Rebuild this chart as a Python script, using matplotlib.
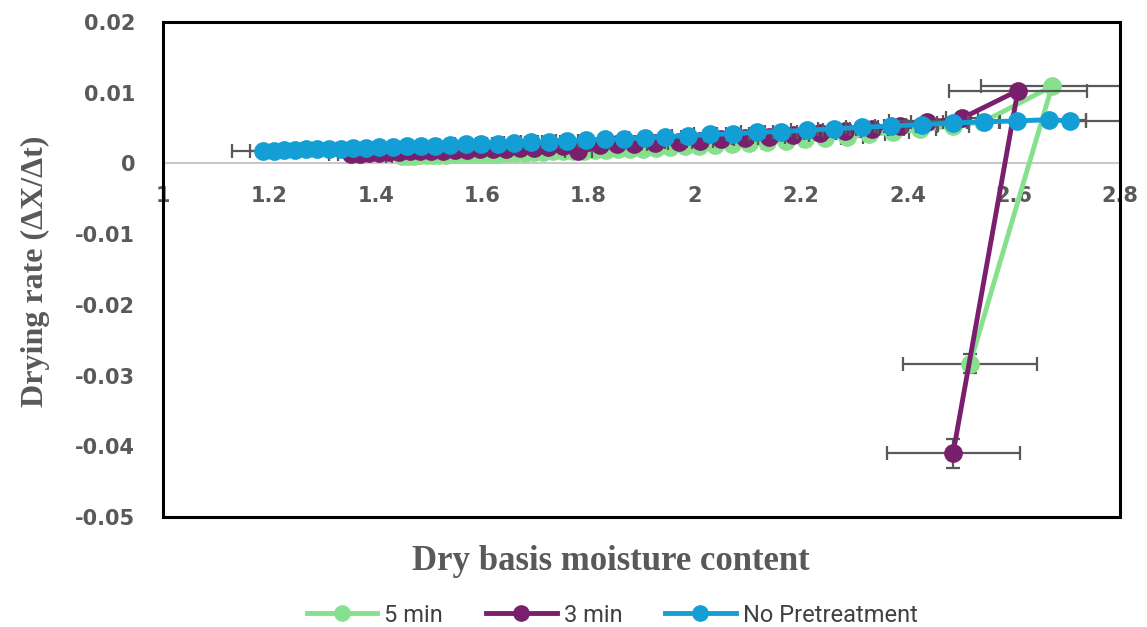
import matplotlib
matplotlib.use("Agg")
import matplotlib.pyplot as plt
from matplotlib.lines import Line2D
from matplotlib.patches import Rectangle

# ---------------- data ----------------
x_ticks = [1.0, 1.2, 1.4, 1.6, 1.8, 2.0, 2.2, 2.4, 2.6, 2.8]
x_tick_labels = ["1", "1.2", "1.4", "1.6", "1.8", "2", "2.2", "2.4", "2.6", "2.8"]
y_ticks = [-0.05, -0.04, -0.03, -0.02, -0.01, 0.0, 0.01, 0.02]
y_tick_labels = ["-0.05", "-0.04", "-0.03", "-0.02", "-0.01", "0", "0.01", "0.02"]

series_names = ["5 min", "3 min", "No Pretreatment"]

x_5min = [2.518, 2.672, 2.543, 2.486, 2.424, 2.373, 2.328, 2.286, 2.246, 2.208,
          2.171, 2.136, 2.102, 2.070, 2.039, 2.009, 1.981, 1.954, 1.928, 1.903,
          1.879, 1.856, 1.834, 1.812, 1.791, 1.771, 1.752, 1.733, 1.715, 1.697,
          1.680, 1.663, 1.647, 1.631, 1.616, 1.601, 1.587, 1.573, 1.559, 1.546,
          1.533, 1.520, 1.508, 1.496, 1.484, 1.472, 1.461, 1.450]
y_5min = [-0.0283, 0.0109, 0.0059, 0.0053, 0.0048, 0.0044, 0.0041, 0.0038, 0.0036, 0.0034,
          0.0032, 0.0031, 0.0029, 0.0028, 0.0026, 0.0025, 0.0024, 0.0023, 0.0022, 0.0021,
          0.0021, 0.0020, 0.0019, 0.0019, 0.0018, 0.0018, 0.0017, 0.0017, 0.0016, 0.0016,
          0.0015, 0.0015, 0.0015, 0.0014, 0.0014, 0.0014, 0.0013, 0.0013, 0.0013, 0.0013,
          0.0012, 0.0012, 0.0012, 0.0012, 0.0012, 0.0011, 0.0011, 0.0011]
xerr_5min = [0.126, 0.134, 0.03, 0.03, 0.03, 0.03, 0.03, 0.03, 0.03, 0.03,
             0.03, 0.03, 0.025, 0.025, 0.025, 0.025, 0.025, 0.025, 0.025, 0.025,
             0.02, 0.02, 0.02, 0.02, 0.02, 0.02, 0.02, 0.02, 0.02, 0.02,
             0.02, 0.02, 0.02, 0.02, 0.02, 0.02, 0.02, 0.02, 0.02, 0.02,
             0.03, 0.03, 0.03, 0.03, 0.03, 0.03, 0.03, 0.03]
yerr_5min = [0.0014, 0.0005, 0.0003, 0.0003, 0.0003, 0.0003, 0.0003, 0.0003, 0.0003, 0.0003,
             0.0003, 0.0003, 0.0003, 0.0003, 0.0003, 0.0003, 0.0003, 0.0003, 0.0003, 0.0003,
             0.0003, 0.0003, 0.0003, 0.0003, 0.0003, 0.0003, 0.0003, 0.0003, 0.0003, 0.0003,
             0.0003, 0.0003, 0.0003, 0.0003, 0.0003, 0.0003, 0.0003, 0.0003, 0.0003, 0.0003,
             0.0003, 0.0003, 0.0003, 0.0003, 0.0003, 0.0003, 0.0003, 0.0003]

x_3min = [2.486, 2.608, 2.503, 2.437, 2.386, 2.333, 2.283, 2.236, 2.185, 2.140,
          2.095, 2.049, 2.010, 1.970, 1.925, 1.886, 1.854, 1.822, 1.781, 1.752,
          1.724, 1.697, 1.671, 1.645, 1.620, 1.596, 1.572, 1.549, 1.527, 1.505,
          1.484, 1.464, 1.444, 1.425, 1.406, 1.388, 1.370, 1.353]
y_3min = [-0.0410, 0.0103, 0.0064, 0.0058, 0.0053, 0.0049, 0.0046, 0.0043, 0.0040, 0.0038,
          0.0036, 0.0034, 0.0032, 0.0031, 0.0029, 0.0028, 0.0027, 0.0026, 0.0017, 0.0024,
          0.0023, 0.0022, 0.0022, 0.0021, 0.0020, 0.0020, 0.0019, 0.0019, 0.0018, 0.0018,
          0.0017, 0.0017, 0.0016, 0.0016, 0.0015, 0.0015, 0.0014, 0.0014]
xerr_3min = [0.125, 0.13, 0.03, 0.03, 0.03, 0.03, 0.03, 0.03, 0.03, 0.03,
             0.025, 0.025, 0.025, 0.025, 0.025, 0.025, 0.025, 0.025, 0.025, 0.025,
             0.02, 0.02, 0.02, 0.02, 0.02, 0.02, 0.02, 0.02, 0.02, 0.02,
             0.02, 0.02, 0.02, 0.02, 0.03, 0.03, 0.04, 0.04]
yerr_3min = [0.002, 0.0005, 0.0003, 0.0003, 0.0003, 0.0003, 0.0003, 0.0003, 0.0003, 0.0003,
             0.0003, 0.0003, 0.0003, 0.0003, 0.0003, 0.0003, 0.0003, 0.0003, 0.0003, 0.0003,
             0.0003, 0.0003, 0.0003, 0.0003, 0.0003, 0.0003, 0.0003, 0.0003, 0.0003, 0.0003,
             0.0003, 0.0003, 0.0003, 0.0003, 0.0003, 0.0003, 0.0003, 0.0003]

x_none = [2.706, 2.666, 2.606, 2.544, 2.486, 2.427, 2.369, 2.315, 2.262, 2.211,
          2.162, 2.117, 2.072, 2.029, 1.987, 1.944, 1.906, 1.867, 1.831, 1.795,
          1.760, 1.726, 1.693, 1.661, 1.630, 1.599, 1.569, 1.540, 1.512, 1.485,
          1.458, 1.432, 1.407, 1.382, 1.358, 1.335, 1.312, 1.290, 1.269, 1.248,
          1.228, 1.208, 1.189]
y_none = [0.0060, 0.0062, 0.0060, 0.0059, 0.0057, 0.0055, 0.0053, 0.0051, 0.0049, 0.0047,
          0.0045, 0.0044, 0.0042, 0.0041, 0.0039, 0.0038, 0.0036, 0.0035, 0.0034, 0.0033,
          0.0032, 0.0031, 0.0030, 0.0029, 0.0028, 0.0028, 0.0027, 0.0026, 0.0025, 0.0025,
          0.0024, 0.0023, 0.0023, 0.0022, 0.0022, 0.0021, 0.0021, 0.0020, 0.0020, 0.0019,
          0.0019, 0.0018, 0.0018]
xerr_none = [0.03, 0.07, 0.24, 0.03, 0.03, 0.03, 0.03, 0.03, 0.03, 0.03,
             0.03, 0.03, 0.03, 0.03, 0.03, 0.03, 0.03, 0.03, 0.03, 0.03,
             0.02, 0.02, 0.02, 0.02, 0.02, 0.02, 0.02, 0.02, 0.02, 0.02,
             0.02, 0.02, 0.02, 0.02, 0.02, 0.02, 0.02, 0.02, 0.02, 0.02,
             0.02, 0.044, 0.059]
yerr_none = [0.0002, 0.0002, 0.0002, 0.0002, 0.0002, 0.0002, 0.0002, 0.0002, 0.0002, 0.0002,
             0.0002, 0.0002, 0.0002, 0.0002, 0.0002, 0.0002, 0.0002, 0.0002, 0.0002, 0.0002,
             0.0002, 0.0002, 0.0002, 0.0002, 0.0002, 0.0002, 0.0002, 0.0002, 0.0002, 0.0002,
             0.0002, 0.0002, 0.0002, 0.0002, 0.0002, 0.0002, 0.0002, 0.0002, 0.0002, 0.0002,
             0.0002, 0.0002, 0.0002]

# ---------------- style ----------------
colors = ["#87E08E", "#7A1F6E", "#139FD5"]
err_color = "#595959"
text_grey = "#595959"

fig = plt.figure(figsize=(11.47, 6.27), dpi=100)
ax = fig.add_axes([163 / 1147, 110 / 627, 957 / 1147, 495 / 627])

series = [
    (x_5min, y_5min, xerr_5min, yerr_5min),
    (x_3min, y_3min, xerr_3min, yerr_3min),
    (x_none, y_none, xerr_none, yerr_none),
]

handles = []
for i, ((xs, ys, xe, ye), name, c) in enumerate(zip(series, series_names, colors)):
    z = 3 + i
    ax.errorbar(xs, ys, xerr=xe, yerr=ye, fmt="none", ecolor=err_color,
                elinewidth=1.6, capsize=5, capthick=1.6, zorder=z)
    ax.plot(xs, ys, "-o", color=c, lw=3.5, markersize=13.5,
            markeredgewidth=0, zorder=z + 0.5, label=name)
    handles.append(Line2D([0], [0], color=c, lw=3.5, marker="o",
                          markersize=12, markeredgewidth=0))

ax.set_xlim(1.0, 2.8)
ax.set_ylim(-0.05, 0.02)

# x axis sits at y = 0 (grey line); frame is a black box
for s in ["left", "right", "top"]:
    ax.spines[s].set_visible(False)
ax.spines["bottom"].set_position(("data", 0))
ax.spines["bottom"].set_color("#C8C8C8")
ax.spines["bottom"].set_linewidth(1.5)
ax.spines["bottom"].set_zorder(1)
ax.add_patch(Rectangle((0, 0), 1, 1, transform=ax.transAxes, fill=False,
                       ec="black", lw=2.2, zorder=10, clip_on=False))

ax.set_xticks(x_ticks)
ax.set_xticklabels(x_tick_labels)
ax.set_yticks(y_ticks)
ax.set_yticklabels(y_tick_labels)
ax.tick_params(axis="x", length=0, pad=16, labelsize=15, labelcolor=text_grey)
ax.tick_params(axis="y", length=0, pad=20, labelsize=15, labelcolor=text_grey)
for lab in ax.get_xticklabels() + ax.get_yticklabels():
    lab.set_fontweight("bold")
    lab.set_family("DejaVu Sans")

fig.text(611 / 1147, 1 - 562 / 627, "Dry basis moisture content",
         ha="center", va="center", fontsize=25, fontweight="bold",
         family="Liberation Serif", color=text_grey)
fig.text(35 / 1147, 1 - 271 / 627, "Drying rate (ΔX/Δt)",
         ha="center", va="center", rotation=90, fontsize=23, fontweight="bold",
         family="Liberation Serif", color=text_grey)

fig.legend(handles, series_names, loc="center", ncol=3, frameon=False,
           bbox_to_anchor=(612 / 1147, 1 - 615 / 627),
           prop={"family": "Roboto", "size": 17}, labelcolor="#404040",
           handlelength=3.0, handletextpad=0.3, columnspacing=1.8)

fig.savefig("out.png", dpi=100)
